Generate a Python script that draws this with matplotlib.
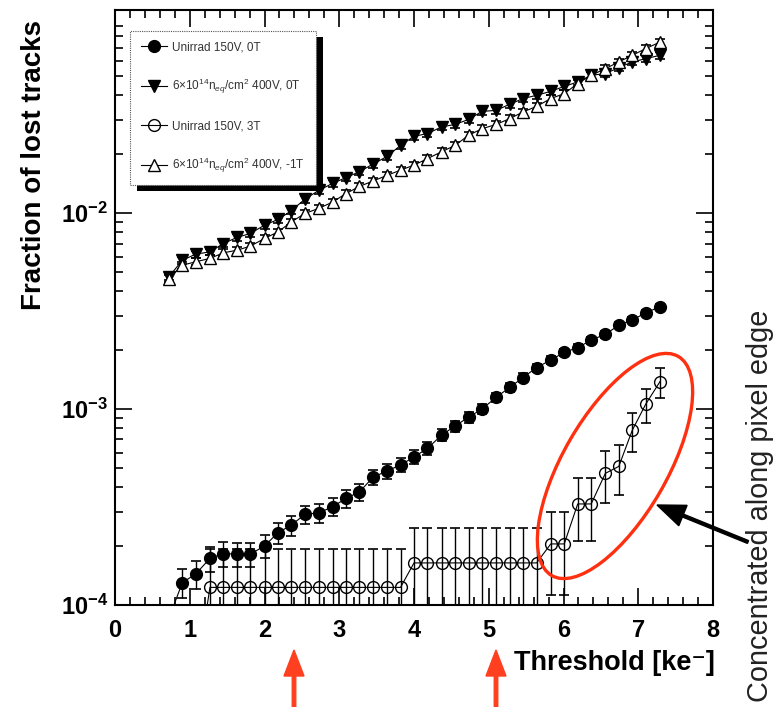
import math
import matplotlib
matplotlib.use('Agg')
import matplotlib.pyplot as plt
from matplotlib.patches import Ellipse, Rectangle
from matplotlib.ticker import FixedLocator, MultipleLocator, LogLocator, NullFormatter, FuncFormatter

plt.rcParams['font.family'] = ['Liberation Sans', 'DejaVu Sans']
plt.rcParams['mathtext.fontset'] = 'custom'
plt.rcParams['mathtext.rm'] = 'Liberation Sans'
plt.rcParams['mathtext.bf'] = 'Liberation Sans:bold'
plt.rcParams['mathtext.it'] = 'Liberation Sans:italic'

# threshold values [ke-]
thr = [0.72, 0.90, 1.08, 1.27, 1.45, 1.63, 1.81, 2.00, 2.18, 2.36, 2.54, 2.73, 2.91,
       3.09, 3.27, 3.45, 3.64, 3.82, 4.00, 4.18, 4.37, 4.55, 4.73, 4.91, 5.10, 5.28,
       5.46, 5.64, 5.83, 6.01, 6.19, 6.37, 6.56, 6.74, 6.92, 7.10, 7.29]

# Unirrad 150V, 0T
unirr_0T = [0.85e-4, 1.30e-4, 1.44e-4, 1.73e-4, 1.83e-4, 1.82e-4, 1.82e-4, 2.00e-4, 2.34e-4,
            2.56e-4, 2.90e-4, 2.96e-4, 3.17e-4, 3.50e-4, 3.78e-4, 4.48e-4, 4.84e-4, 5.18e-4,
            5.70e-4, 6.30e-4, 7.37e-4, 8.20e-4, 9.10e-4, 1.00e-3, 1.15e-3, 1.29e-3, 1.45e-3,
            1.63e-3, 1.78e-3, 1.95e-3, 2.06e-3, 2.25e-3, 2.41e-3, 2.68e-3, 2.85e-3, 3.10e-3,
            3.33e-3]
unirr_0T_err = [0.08e-4, 0.22e-4, 0.23e-4, 0.25e-4, 0.26e-4, 0.26e-4, 0.26e-4, 0.27e-4, 0.29e-4,
                0.30e-4, 0.32e-4, 0.33e-4, 0.34e-4, 0.36e-4, 0.37e-4, 0.40e-4, 0.42e-4, 0.43e-4,
                0.45e-4, 0.48e-4, 0.52e-4, 0.54e-4, 0.57e-4, 0.60e-4, 0.64e-4, 0.68e-4, 0.72e-4,
                0.77e-4, 0.80e-4, 0.84e-4, 0.86e-4, 0.90e-4, 0.93e-4, 0.98e-4, 1.01e-4, 1.06e-4,
                1.09e-4]

# 6x10^14 400V, 0T
irr_0T = [4.73e-3, 5.75e-3, 6.18e-3, 6.35e-3, 7.00e-3, 7.52e-3, 7.88e-3, 8.69e-3, 9.29e-3,
          1.03e-2, 1.18e-2, 1.31e-2, 1.42e-2, 1.52e-2, 1.63e-2, 1.78e-2, 1.95e-2, 2.22e-2,
          2.47e-2, 2.55e-2, 2.76e-2, 2.84e-2, 3.01e-2, 3.31e-2, 3.35e-2, 3.60e-2, 3.85e-2,
          4.00e-2, 4.19e-2, 4.44e-2, 4.68e-2, 5.06e-2, 5.16e-2, 5.54e-2, 5.92e-2, 6.15e-2,
          6.40e-2]

# Unirrad 150V, 3T (starts at thr[2])
unirr_3T = [0.41e-4, 1.23e-4, 1.23e-4, 1.23e-4, 1.23e-4, 1.23e-4, 1.23e-4, 1.23e-4, 1.23e-4,
            1.23e-4, 1.23e-4, 1.23e-4, 1.23e-4, 1.23e-4, 1.23e-4, 1.23e-4, 1.64e-4, 1.64e-4,
            1.64e-4, 1.64e-4, 1.64e-4, 1.64e-4, 1.64e-4, 1.64e-4, 1.64e-4, 1.64e-4, 2.05e-4,
            2.05e-4, 3.28e-4, 3.28e-4, 4.70e-4, 5.10e-4, 7.80e-4, 1.06e-3, 1.38e-3]
unirr_3T_err = [0.30e-4, 0.71e-4, 0.71e-4, 0.71e-4, 0.71e-4, 0.71e-4, 0.71e-4, 0.71e-4, 0.71e-4,
                0.71e-4, 0.71e-4, 0.71e-4, 0.71e-4, 0.71e-4, 0.71e-4, 0.71e-4, 0.82e-4, 0.82e-4,
                0.82e-4, 0.82e-4, 0.82e-4, 0.82e-4, 0.82e-4, 0.82e-4, 0.82e-4, 0.82e-4, 0.92e-4,
                0.92e-4, 1.16e-4, 1.16e-4, 1.39e-4, 1.45e-4, 1.79e-4, 2.08e-4, 2.38e-4]

# 6x10^14 400V, -1T
irr_m1T = [4.64e-3, 5.43e-3, 5.65e-3, 5.88e-3, 6.28e-3, 6.47e-3, 6.79e-3, 7.43e-3, 8.03e-3,
           9.03e-3, 9.97e-3, 1.06e-2, 1.14e-2, 1.26e-2, 1.37e-2, 1.46e-2, 1.56e-2, 1.66e-2,
           1.76e-2, 1.90e-2, 2.06e-2, 2.22e-2, 2.50e-2, 2.70e-2, 2.84e-2, 3.04e-2, 3.29e-2,
           3.51e-2, 3.85e-2, 4.08e-2, 4.59e-2, 5.06e-2, 5.47e-2, 5.92e-2, 6.40e-2, 6.92e-2,
           7.48e-2]

irr_rel_err = 0.04

labels = ['Unirrad 150V, 0T',
          r'6$\times$10$^{14}$n$_{eq}$/cm$^{2}$ 400V, 0T',
          'Unirrad 150V, 3T',
          r'6$\times$10$^{14}$n$_{eq}$/cm$^{2}$ 400V, -1T']

fig = plt.figure(figsize=(7.76, 7.07), dpi=100)
ax = fig.add_axes([115/776, 1-605/707, 598/776, 595/707])

eb = dict(fmt='none', ecolor='black', elinewidth=1.0, capsize=3.5, capthick=1.2, zorder=2)

ax.errorbar(thr, unirr_0T, yerr=unirr_0T_err, **eb)
ax.errorbar(thr[2:], unirr_3T, yerr=unirr_3T_err, **eb)
ax.errorbar(thr, irr_0T, yerr=[v*irr_rel_err for v in irr_0T], **eb)
ax.errorbar(thr, irr_m1T, yerr=[v*irr_rel_err for v in irr_m1T], **eb)

h1, = ax.plot(thr, unirr_0T, '-o', color='black', lw=0.8, ms=8.5, mfc='black', zorder=3)
h2, = ax.plot(thr, irr_0T, '-v', color='black', lw=0.8, ms=9, mfc='black', zorder=3)
h3, = ax.plot(thr[2:], unirr_3T, '-o', color='black', lw=0.8, ms=8.5, mfc='none', mew=1.0, zorder=3)
h4, = ax.plot(thr, irr_m1T, '-^', color='black', lw=0.8, ms=9, mfc='white', mew=1.0, zorder=3)

ax.set_xlim(0, 8)
ax.set_yscale('log')
ax.set_ylim(1e-4, 0.109)

ax.xaxis.set_major_locator(MultipleLocator(1))
ax.xaxis.set_minor_locator(MultipleLocator(0.2))
ax.yaxis.set_major_locator(FixedLocator([1e-4, 1e-3, 1e-2]))
ax.yaxis.set_minor_locator(LogLocator(base=10, subs=range(2, 10)))
ax.yaxis.set_minor_formatter(NullFormatter())
ax.yaxis.set_major_formatter(FuncFormatter(lambda v, p: r'$\mathbf{10^{%d}}$' % round(math.log10(v))))

ax.tick_params(which='both', direction='in', top=True, right=True, width=1.2)
ax.tick_params(which='major', length=12, labelsize=17)
ax.tick_params(axis='x', which='major', pad=10)
ax.tick_params(axis='y', which='major', pad=5)
ax.tick_params(which='minor', length=6)
for t in ax.get_xticklabels():
    t.set_fontweight('bold')
for s in ax.spines.values():
    s.set_linewidth(1.5)

leg = ax.legend([h1, h2, h3, h4], labels, loc='upper left',
                bbox_to_anchor=(130/776, 1-31/707), bbox_transform=fig.transFigure,
                borderaxespad=0, fontsize=8.5, labelspacing=2.0, borderpad=0.9,
                handlelength=2.2, handletextpad=0.5, fancybox=False, framealpha=1)
leg.get_frame().set_edgecolor('#555555')
leg.get_frame().set_linewidth(0.8)
leg.get_frame().set_linestyle((0, (1, 1)))
for t in leg.get_texts():
    t.set_color('#333333')

fig.text(34/776, 1-20/707, 'Fraction of lost tracks', rotation=90, ha='center', va='top',
         fontsize=20, fontweight='bold')
fig.text(715/776, 1-663/707, 'Threshold [ke\u207b]', ha='right', va='center',
         fontsize=19.5, fontweight='bold')
fig.text(760/776, 1-702/707, 'Concentrated along pixel edge', rotation=90, ha='center',
         va='bottom', fontsize=20.8, color='#222222')

# legend shadow
fig.canvas.draw()
bb = leg.get_window_extent().transformed(fig.transFigure.inverted())
ax.add_patch(Rectangle((bb.x0 + 7/776, bb.y0 - 6/707), bb.width, bb.height,
                       transform=fig.transFigure, facecolor='black', edgecolor='none',
                       clip_on=False, zorder=4.9))

# annotations in pixel coordinates
ov = fig.add_axes([0, 0, 1, 1], zorder=10)
ov.set_xlim(0, 776)
ov.set_ylim(707, 0)
ov.axis('off')
ov.add_patch(Ellipse((615, 466), 253, 104, angle=-60, fill=False, edgecolor='#ff3010', lw=2.4))
ov.arrow(748, 542, 657-748, 505-542, width=3, head_width=22, head_length=28,
         length_includes_head=True, color='black')
for xa in [294, 496]:
    ov.arrow(xa, 712, 0, -62, width=3.5, head_width=20, head_length=26,
             length_includes_head=True, color='#ff4020')

fig.savefig('out.png', dpi=100)
